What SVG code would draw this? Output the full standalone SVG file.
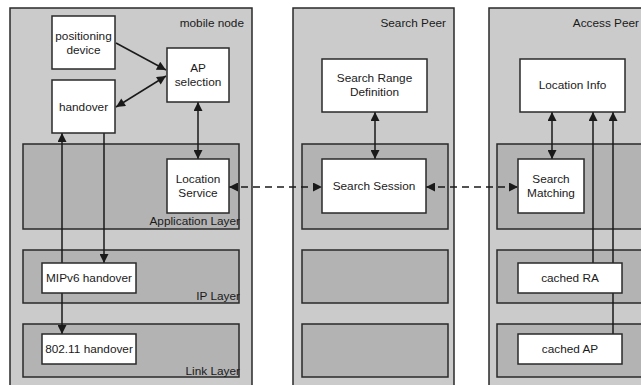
<svg xmlns="http://www.w3.org/2000/svg" width="641" height="385" viewBox="0 0 641 385">
<defs>
<style>
.panel{fill:#cbcbcb;stroke:#2a2a2a;stroke-width:1.5}
.layer{fill:#b3b3b3;stroke:#2a2a2a;stroke-width:1.5}
.box{fill:#ffffff;stroke:#2a2a2a;stroke-width:1.5}
text{font-family:"Liberation Sans",Arial,sans-serif;font-size:11.8px;fill:#1a1a1a}
.c{text-anchor:middle}
.r{text-anchor:end}
.ln{stroke:#1a1a1a;stroke-width:1.5;fill:none}
.dash{stroke:#1a1a1a;stroke-width:1.5;fill:none;stroke-dasharray:7,5}
</style>
<marker id="ah" viewBox="0 0 10 10" refX="10" refY="5" markerWidth="10" markerHeight="9" markerUnits="userSpaceOnUse" orient="auto-start-reverse">
<path d="M0,0 L10,5 L0,10 z" fill="#1a1a1a"/>
</marker>
</defs>
<rect width="641" height="385" fill="#ffffff"/>

<g id="panel-mobile-node">
<rect class="panel" x="10" y="8" width="242" height="390"/>
<text class="r" x="244" y="27">mobile node</text>
<rect class="layer" x="23" y="144" width="216" height="85"/>
<text class="r" x="240" y="225">Application Layer</text>
<rect class="layer" x="23" y="250" width="216" height="53"/>
<text class="r" x="240" y="300">IP Layer</text>
<rect class="layer" x="23" y="324" width="216" height="53"/>
<text class="r" x="240" y="375">Link Layer</text>
</g>

<g id="panel-search-peer">
<rect class="panel" x="293" y="8" width="161" height="390"/>
<text class="r" x="446" y="27">Search Peer</text>
<rect class="layer" x="302" y="144" width="146" height="85"/>
<rect class="layer" x="302" y="250" width="146" height="53"/>
<rect class="layer" x="302" y="324" width="146" height="53"/>
</g>

<g id="panel-access-peer">
<rect class="panel" x="489" y="8" width="170" height="390"/>
<text class="r" x="639" y="27">Access Peer</text>
<rect class="layer" x="497" y="144" width="160" height="85"/>
<rect class="layer" x="497" y="250" width="160" height="53"/>
<rect class="layer" x="497" y="324" width="160" height="53"/>
</g>

<g id="connectors">
<line class="ln" x1="116" y1="43" x2="166" y2="70" marker-end="url(#ah)"/>
<line class="ln" x1="116" y1="107" x2="166" y2="76" marker-start="url(#ah)" marker-end="url(#ah)"/>
<line class="ln" x1="198" y1="102" x2="198" y2="159" marker-start="url(#ah)" marker-end="url(#ah)"/>
<line class="ln" x1="62" y1="263" x2="62" y2="133" marker-end="url(#ah)"/>
<line class="ln" x1="62" y1="293" x2="62" y2="334" marker-end="url(#ah)"/>
<line class="ln" x1="104" y1="133" x2="104" y2="263" marker-end="url(#ah)"/>
<line class="dash" x1="229" y1="187" x2="322" y2="187" marker-start="url(#ah)" marker-end="url(#ah)"/>
<line class="dash" x1="426" y1="187" x2="518" y2="187" marker-start="url(#ah)" marker-end="url(#ah)"/>
<line class="ln" x1="375" y1="112" x2="375" y2="159" marker-start="url(#ah)" marker-end="url(#ah)"/>
<line class="ln" x1="552" y1="112" x2="552" y2="159" marker-start="url(#ah)" marker-end="url(#ah)"/>
<line class="ln" x1="593" y1="263" x2="593" y2="112" marker-end="url(#ah)"/>
<line class="ln" x1="613" y1="334" x2="613" y2="112" marker-end="url(#ah)"/>
</g>

<g id="node-positioning-device">
<rect class="box" x="52" y="16" width="63" height="53"/>
<text class="c" x="83.5" y="40">positioning</text>
<text class="c" x="83.5" y="54">device</text>
</g>
<g id="node-handover">
<rect class="box" x="52" y="80" width="63" height="53"/>
<text class="c" x="83.5" y="111">handover</text>
</g>
<g id="node-ap-selection">
<rect class="box" x="167" y="48" width="62" height="54"/>
<text class="c" x="198" y="72">AP</text>
<text class="c" x="198" y="86">selection</text>
</g>
<g id="node-location-service">
<rect class="box" x="167" y="159" width="62" height="54"/>
<text class="c" x="198" y="183">Location</text>
<text class="c" x="198" y="197">Service</text>
</g>
<g id="node-mipv6-handover">
<rect class="box" x="42" y="263" width="94" height="30"/>
<text class="c" x="89" y="282">MIPv6 handover</text>
</g>
<g id="node-80211-handover">
<rect class="box" x="42" y="334" width="94" height="30"/>
<text class="c" x="89" y="353">802.11 handover</text>
</g>
<g id="node-search-range-definition">
<rect class="box" x="322" y="59" width="105" height="53"/>
<text class="c" x="374.5" y="82">Search Range</text>
<text class="c" x="374.5" y="96">Definition</text>
</g>
<g id="node-search-session">
<rect class="box" x="322" y="159" width="104" height="54"/>
<text class="c" x="374" y="190">Search Session</text>
</g>
<g id="node-location-info">
<rect class="box" x="520" y="59" width="105" height="53"/>
<text class="c" x="572.5" y="89">Location Info</text>
</g>
<g id="node-search-matching">
<rect class="box" x="518" y="159" width="66" height="54"/>
<text class="c" x="551" y="183">Search</text>
<text class="c" x="551" y="197">Matching</text>
</g>
<g id="node-cached-ra">
<rect class="box" x="518" y="263" width="104" height="30"/>
<text class="c" x="570" y="282">cached RA</text>
</g>
<g id="node-cached-ap">
<rect class="box" x="518" y="334" width="104" height="30"/>
<text class="c" x="570" y="353">cached AP</text>
</g>
</svg>
